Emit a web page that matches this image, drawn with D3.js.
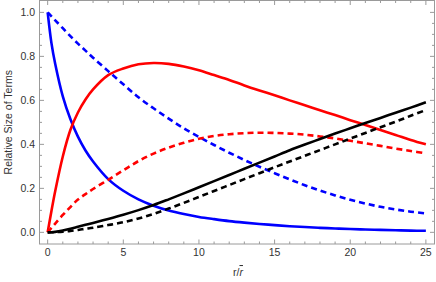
<!DOCTYPE html>
<html lang="en">
<head>
<meta charset="UTF-8">
<title>Relative Size of Terms</title>
<script src="https://d3js.org/d3.v7.min.js"></script>
<style>
    body { margin: 0; background: #fff; }
    svg { display: block; font-family: 'Liberation Sans', Arial, sans-serif; }
    .frame { fill: none; stroke: #9a9a9a; stroke-width: 1; }
    .tick-line { stroke: #9a9a9a; stroke-width: 1; }
    .tick-label { fill: #333; font-size: 10.5px; }
    .axis-title { fill: #333; font-size: 10.5px; }
    .curve { fill: none; stroke-width: 2.6; }
</style>
</head>
<body>
<script>
    // r / r-bar sample positions
    const rValues = [0, 0.25, 0.5, 1, 1.5, 2, 2.5, 3, 4, 5, 6, 7, 8, 9, 10, 11, 12, 13, 14, 15, 16, 17, 18, 19, 20, 21, 22, 23, 24, 25];

    // values
    const blueSolid  = [1.0, 0.86, 0.765, 0.618, 0.515, 0.435, 0.372, 0.322, 0.242, 0.189, 0.15, 0.121, 0.099, 0.083, 0.07, 0.06, 0.051, 0.044, 0.038, 0.033, 0.028, 0.024, 0.0205, 0.0178, 0.015, 0.013, 0.011, 0.0095, 0.008, 0.007];
    const blueDashed = [1.0, 0.982, 0.964, 0.928, 0.892, 0.858, 0.826, 0.794, 0.733, 0.673, 0.614, 0.564, 0.517, 0.473, 0.434, 0.397, 0.362, 0.329, 0.298, 0.269, 0.241, 0.214, 0.19, 0.168, 0.148, 0.131, 0.116, 0.104, 0.094, 0.086];
    const redSolid   = [0, 0.097, 0.188, 0.345, 0.465, 0.545, 0.604, 0.65, 0.715, 0.745, 0.764, 0.770, 0.766, 0.754, 0.737, 0.715, 0.693, 0.668, 0.645, 0.623, 0.600, 0.578, 0.555, 0.533, 0.51, 0.488, 0.465, 0.443, 0.42, 0.4];
    const redDashed  = [0, 0.02, 0.04, 0.079, 0.115, 0.149, 0.174, 0.197, 0.239, 0.282, 0.324, 0.358, 0.385, 0.407, 0.425, 0.438, 0.446, 0.451, 0.453, 0.452, 0.449, 0.444, 0.436, 0.427, 0.416, 0.405, 0.393, 0.381, 0.37, 0.359];
    const blackSolid = [0, 0.0005, 0.002, 0.008, 0.016, 0.025, 0.034, 0.043, 0.061, 0.08, 0.101, 0.124, 0.15, 0.177, 0.205, 0.233, 0.261, 0.289, 0.317, 0.345, 0.373, 0.399, 0.424, 0.449, 0.473, 0.497, 0.52, 0.544, 0.567, 0.591];
    const blackDashed= [0, 0.0002, 0.001, 0.003, 0.006, 0.011, 0.016, 0.021, 0.033, 0.046, 0.063, 0.084, 0.108, 0.134, 0.161, 0.188, 0.215, 0.242, 0.269, 0.296, 0.322, 0.348, 0.374, 0.4, 0.426, 0.452, 0.478, 0.503, 0.53, 0.556];

    const xTicks = [0, 5, 10, 15, 20, 25];
    const yTicks = [0.0, 0.2, 0.4, 0.6, 0.8, 1.0];

    const series = [
        { values: blueSolid,   color: "#0000ff", dashed: false },
        { values: blueDashed,  color: "#0000ff", dashed: true },
        { values: redSolid,    color: "#ff0000", dashed: false },
        { values: redDashed,   color: "#ff0000", dashed: true },
        { values: blackSolid,  color: "#000000", dashed: false },
        { values: blackDashed, color: "#000000", dashed: true }
    ];

    const width = 436, height = 282;
    const frameL = 39.5, frameR = 434.5, frameT = 0.5, frameB = 244;

    const svg = d3.select("body").append("svg")
        .attr("width", width)
        .attr("height", height);

    const x = d3.scaleLinear().domain([-0.54, 25.57]).range([frameL, frameR]);
    const y = d3.scaleLinear().domain([-0.053, 1.054]).range([frameB, frameT]);

    const plot = svg.append("g");
    plot.append("clipPath").attr("id", "clip")
        .append("rect")
        .attr("x", frameL).attr("y", frameT)
        .attr("width", frameR - frameL).attr("height", frameB - frameT);

    const line = d3.line()
        .x((d, i) => x(rValues[i]))
        .y(d => y(d))
        .curve(d3.curveCatmullRom.alpha(0.5));

    plot.append("g").attr("clip-path", "url(#clip)")
        .selectAll("path")
        .data(series)
        .enter().append("path")
        .attr("class", "curve")
        .attr("stroke", d => d.color)
        .attr("stroke-dasharray", d => d.dashed ? "6,4" : null)
        .attr("d", d => line(d.values));

    // frame
    svg.append("rect")
        .attr("class", "frame")
        .attr("x", frameL).attr("y", frameT)
        .attr("width", frameR - frameL).attr("height", frameB - frameT);

    // ticks pointing inwards on all four sides
    const xMinor = d3.range(0, 26, 1);
    const yMinor = d3.range(0, 21, 1).map(i => i * 0.05);
    const tickG = svg.append("g");

    xMinor.forEach(t => {
        const major = t % 5 === 0;
        const len = major ? 4.5 : 2.5;
        tickG.append("line").attr("class", "tick-line")
            .attr("x1", x(t)).attr("x2", x(t))
            .attr("y1", frameB).attr("y2", frameB - len);
        tickG.append("line").attr("class", "tick-line")
            .attr("x1", x(t)).attr("x2", x(t))
            .attr("y1", frameT).attr("y2", frameT + len);
    });
    yMinor.forEach((t, i) => {
        const major = i % 4 === 0;
        const len = major ? 4.5 : 2.5;
        tickG.append("line").attr("class", "tick-line")
            .attr("x1", frameL).attr("x2", frameL + len)
            .attr("y1", y(t)).attr("y2", y(t));
        tickG.append("line").attr("class", "tick-line")
            .attr("x1", frameR).attr("x2", frameR - len)
            .attr("y1", y(t)).attr("y2", y(t));
    });

    svg.append("g").selectAll("text")
        .data(xTicks)
        .enter().append("text")
        .attr("class", "tick-label")
        .attr("x", d => x(d))
        .attr("y", 256)
        .attr("text-anchor", "middle")
        .text(d => d);

    svg.append("g").selectAll("text")
        .data(yTicks)
        .enter().append("text")
        .attr("class", "tick-label")
        .attr("x", 35)
        .attr("y", d => y(d))
        .attr("dy", "0.35em")
        .attr("text-anchor", "end")
        .text(d => d.toFixed(1));

    // axis titles
    const xt = svg.append("text")
        .attr("class", "axis-title")
        .attr("x", 238)
        .attr("y", 276)
        .attr("text-anchor", "middle");
    xt.append("tspan").text("r/");
    xt.append("tspan").attr("font-style", "italic")
        .style("text-decoration", "overline")
        .text("r");

    svg.append("text")
        .attr("class", "axis-title")
        .attr("transform", `translate(12, ${(frameT + frameB) / 2}) rotate(-90)`)
        .attr("text-anchor", "middle")
        .text("Relative Size of Terms");
</script>
</body>
</html>
